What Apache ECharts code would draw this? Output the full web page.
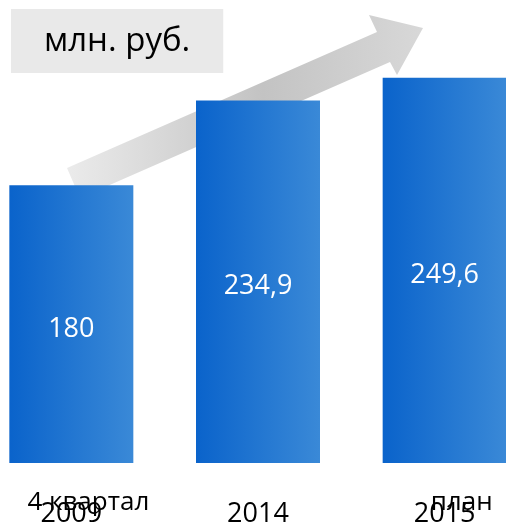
<!DOCTYPE html>
<html>
<head>
<meta charset="utf-8">
<script src="https://cdn.jsdelivr.net/npm/echarts@6/dist/echarts.min.js"></script>
<style>
  html, body { margin: 0; padding: 0; background: #fff; }
  #chart { width: 506px; height: 526px; }
</style>
</head>
<body>
<div id="chart"></div>
<script>
const years = ['2009', '2014', '2015'];
const notes = ['4 квартал', '', 'план'];
const values = [180, 234.9, 249.6];

const FONT = '"Open Sans", sans-serif';

const barColor = new echarts.graphic.LinearGradient(0, 0, 1, 0, [
  { offset: 0, color: '#0a63cb' },
  { offset: 1, color: '#3a89d7' }
]);

const chart = echarts.init(document.getElementById('chart'), null, { renderer: 'canvas' });

chart.setOption({
  animation: false,
  title: {
    text: 'млн. руб.',
    left: 11,
    top: 9,
    backgroundColor: '#e9e9e9',
    padding: [16, 33, 15, 33],
    textStyle: { fontFamily: FONT, fontSize: 33, fontWeight: 'normal', color: '#000' }
  },
  grid: { left: -22, width: 560, top: 0, bottom: 63, outerBoundsMode: 'none', containLabel: false },
  graphic: [
    {
      type: 'polygon',
      z: -1,
      shape: {
        points: [[67, 168], [377, 32], [369, 15], [423, 28], [397, 75], [390, 62], [80, 198]]
      },
      style: {
        fill: new echarts.graphic.LinearGradient(0, 0, 1, 0, [
          { offset: 0, color: '#ebebeb' },
          { offset: 0.55, color: '#c3c3c3' },
          { offset: 1, color: '#d8d8d8' }
        ])
      }
    }
  ],
  xAxis: [
    {
      type: 'category',
      data: years,
      axisLine: { show: false },
      axisTick: { show: false },
      axisLabel: { margin: 38, fontFamily: FONT, fontSize: 27, color: '#000' }
    },
    {
      type: 'category',
      position: 'bottom',
      data: notes,
      axisLine: { show: false },
      axisTick: { show: false },
      axisLabel: {
        margin: 27,
        fontFamily: FONT,
        fontSize: 26,
        color: '#000',
        padding: [0, 0, 0, 34]
      }
    }
  ],
  yAxis: { type: 'value', min: 0, max: 300, show: false },
  series: [
    {
      type: 'bar',
      data: values,
      barWidth: 124,
      itemStyle: { color: barColor },
      label: {
        show: true,
        position: 'inside',
        offset: [0, 5],
        fontFamily: FONT,
        fontSize: 27,
        color: '#fff',
        formatter: p => String(p.value).replace('.', ',')
      }
    }
  ]
});
</script>
</body>
</html>
